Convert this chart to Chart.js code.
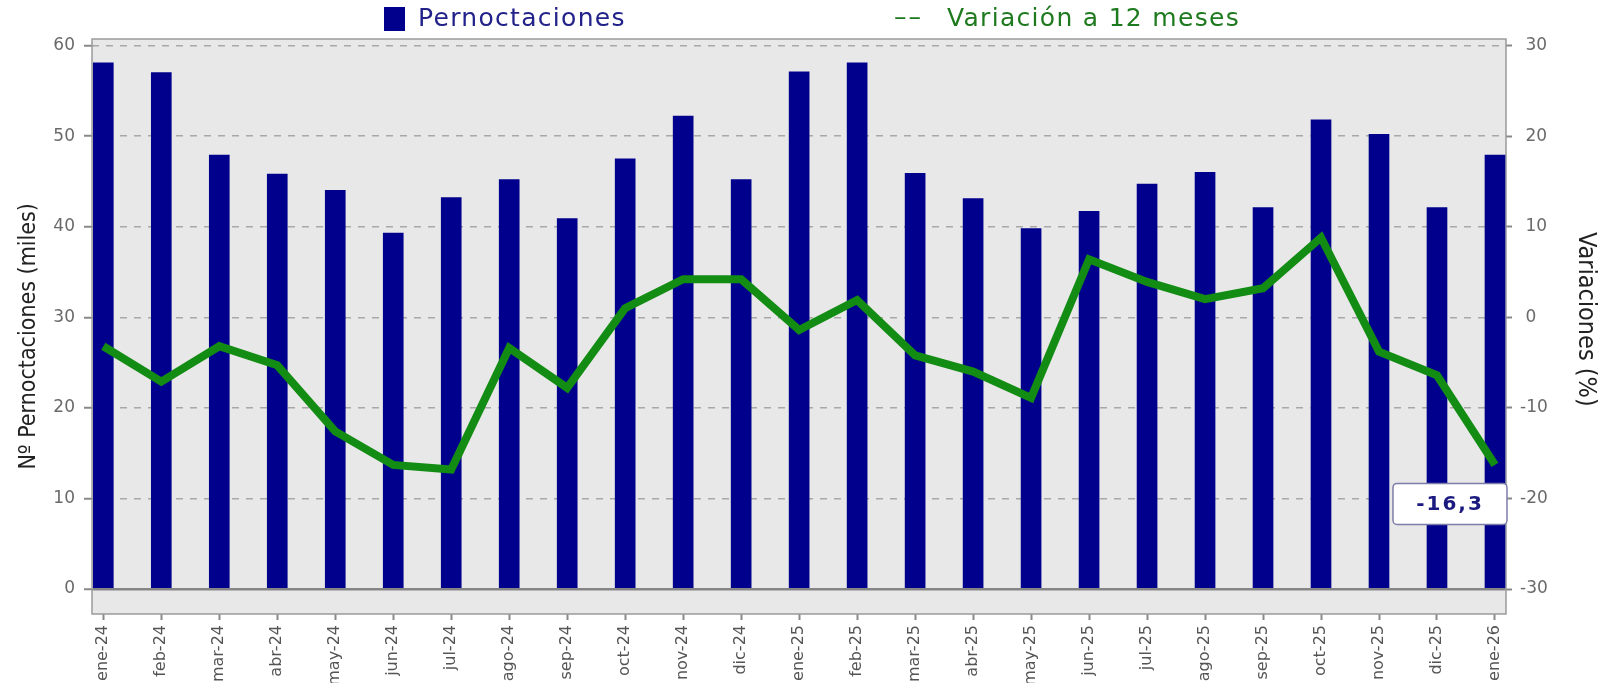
<!DOCTYPE html>
<html>
<head>
<meta charset="utf-8">
<script src="https://cdn.jsdelivr.net/npm/chart.js@4.4.1/dist/chart.umd.min.js"></script>
<style>
  html, body { margin: 0; padding: 0; background: #ffffff; }
  #wrap { position: relative; width: 1600px; height: 683px; overflow: hidden; }
  #c { position: absolute; left: 0; top: 0; }
  .lg { position: absolute; font-family: 'DejaVu Sans', Verdana, sans-serif; font-size: 25px; line-height: 24px; white-space: nowrap; letter-spacing: 1.3px; }
</style>
</head>
<body>
<div id="wrap">
  <canvas id="c" width="1600" height="683"></canvas>
  <div class="lg" style="left:384px;top:7px;width:21px;height:24px;background:#00008C;"></div>
  <div class="lg" style="left:418px;top:6px;color:#22228a;">Pernoctaciones</div>
  <div class="lg" style="left:894px;top:5px;color:#1f7a1f;letter-spacing:2px;">––</div>
  <div class="lg" style="left:947px;top:6px;color:#1f7a1f;">Variación a 12 meses</div>
</div>
<script>
const labels = ['ene-24','feb-24','mar-24','abr-24','may-24','jun-24','jul-24','ago-24','sep-24','oct-24','nov-24','dic-24',
                'ene-25','feb-25','mar-25','abr-25','may-25','jun-25','jul-25','ago-25','sep-25','oct-25','nov-25','dic-25','ene-26'];
const pernoctaciones = [58.1, 57.0, 47.9, 45.8, 44.0, 39.3, 43.2, 45.2, 40.9, 47.5, 52.2, 45.2,
                        57.1, 58.1, 45.9, 43.1, 39.8, 41.7, 44.7, 46.0, 42.1, 51.8, 50.2, 42.1, 47.9];
const variacion = [-3.2, -7.1, -3.2, -5.3, -12.6, -16.3, -16.8, -3.4, -7.8, 1.0, 4.2, 4.2,
                   -1.4, 1.9, -4.2, -6.0, -8.9, 6.4, 3.9, 2.0, 3.2, 8.8, -3.8, -6.4, -16.3];
const leftTicks = [0, 10, 20, 30, 40, 50, 60];
const rightTicks = [-30, -20, -10, 0, 10, 20, 30];

const FONT = "'DejaVu Sans', Verdana, sans-serif";
const FONT_C = "'DejaVu Sans Condensed', 'DejaVu Sans', sans-serif";

const plotDeco = {
  id: 'plotDeco',
  beforeDraw(chart) {
    const {ctx, chartArea: a} = chart;
    ctx.save();
    ctx.fillStyle = '#e8e8e8';
    ctx.fillRect(a.left, a.top, a.right - a.left, a.bottom - a.top);
    ctx.restore();
  },
  beforeDatasetsDraw(chart) {
    const {ctx, chartArea: a} = chart;
    ctx.save();
    ctx.strokeStyle = '#9a9a9a';
    ctx.lineWidth = 1.5;
    ctx.strokeRect(a.left, a.top, a.right - a.left, a.bottom - a.top);
    ctx.restore();
  },
  afterDatasetsDraw(chart) {
    const meta = chart.getDatasetMeta(1);
    const last = meta.data[meta.data.length - 1];
    if (!last) return;
    const val = variacion[variacion.length - 1];
    const txt = String(val).replace('.', ',');
    const {ctx} = chart;
    const w = 114, h = 41;
    const cx = last.x - 45, cy = last.y + 39;
    ctx.save();
    ctx.beginPath();
    if (ctx.roundRect) ctx.roundRect(cx - w / 2, cy - h / 2, w, h, 4); else ctx.rect(cx - w / 2, cy - h / 2, w, h);
    ctx.fillStyle = '#ffffff';
    ctx.fill();
    ctx.strokeStyle = '#7d7daa';
    ctx.lineWidth = 1.5;
    ctx.stroke();
    ctx.font = "bold 20px " + FONT;
    if ('letterSpacing' in ctx) ctx.letterSpacing = '2px';
    ctx.fillStyle = '#1a1a80';
    ctx.textAlign = 'center';
    ctx.textBaseline = 'middle';
    ctx.fillText(txt, cx, cy + 1);
    ctx.restore();
  }
};

new Chart(document.getElementById('c'), {
  type: 'bar',
  data: {
    datasets: [
      {
        type: 'bar',
        label: 'Pernoctaciones',
        data: pernoctaciones.map((v, i) => ({x: i, y: v})),
        backgroundColor: '#00008C',
        borderWidth: 0,
        barThickness: 20,
        yAxisID: 'y',
        order: 2
      },
      {
        type: 'line',
        label: 'Variación a 12 meses',
        data: variacion.map((v, i) => ({x: i, y: v})),
        borderColor: '#138c13',
        backgroundColor: '#138c13',
        borderWidth: 8,
        pointRadius: 0,
        pointHoverRadius: 0,
        tension: 0,
        fill: false,
        yAxisID: 'y1',
        order: 1
      }
    ]
  },
  options: {
    responsive: false,
    animation: false,
    devicePixelRatio: 1,
    layout: { padding: { top: 39, left: 0, right: 0, bottom: 0 } },
    plugins: { legend: { display: false }, tooltip: { enabled: false }, title: { display: false } },
    scales: {
      x: {
        type: 'linear',
        position: 'bottom',
        min: -0.195,
        max: 24.19,
        offset: false,
        afterFit(s) { s.height = 69; },
        grid: { offset: false, drawOnChartArea: false, drawTicks: true, tickLength: 6, tickColor: '#888888', tickWidth: 2 },
        border: { display: false },
        ticks: {
          stepSize: 1,
          autoSkip: false,
          includeBounds: false,
          maxTicksLimit: 40,
          minRotation: 90,
          maxRotation: 90,
          padding: 5,
          color: '#555555',
          font: { family: FONT, size: 16 },
          callback: (v) => Number.isInteger(v) && labels[v] !== undefined ? labels[v] : ''
        }
      },
      y: {
        type: 'linear',
        position: 'left',
        min: -2.76,
        max: 60.72,
        afterFit(s) { s.width = 92; },
        afterBuildTicks(s) { s.ticks = leftTicks.map(v => ({value: v})); },
        grid: {
          drawOnChartArea: true,
          drawTicks: true,
          tickLength: 8,
          tickColor: '#888888',
          tickWidth: 2,
          color: (c) => (c.tick && c.tick.value === 0) ? '#858585' : '#a8a8a8',
          lineWidth: (c) => (c.tick && c.tick.value === 0) ? 2.5 : 1.5
        },
        border: { display: false, dash: (c) => (c.tick && c.tick.value === 0) ? [] : [7, 7] },
        ticks: {
          stepSize: 10,
          includeBounds: false,
          padding: 9,
          color: '#6a6a6a',
          font: { family: FONT, size: 17 }
        },
        title: {
          display: true,
          text: 'Nº Pernoctaciones (miles)\u00a0\u00a0\u00a0',
          color: '#222222',
          font: { family: FONT_C, size: 23 },
          padding: { top: 15, bottom: 0 }
        }
      },
      y1: {
        type: 'linear',
        position: 'right',
        min: -32.76,
        max: 30.72,
        afterFit(s) { s.width = 94; },
        afterBuildTicks(s) { s.ticks = rightTicks.map(v => ({value: v})); },
        grid: { drawOnChartArea: false, drawTicks: true, tickLength: 6, tickColor: '#888888', tickWidth: 2 },
        border: { display: false },
        ticks: {
          stepSize: 10,
          includeBounds: false,
          padding: 8,
          color: '#6a6a6a',
          font: { family: FONT, size: 17 },
          callback: (v) => (v >= 0 ? '\u2008' : '') + v
        },
        title: {
          display: true,
          text: 'Variaciones (%)\u00a0\u00a0',
          color: '#222222',
          font: { family: FONT_C, size: 25 },
          padding: { top: 0, bottom: 0 }
        }
      }
    }
  },
  plugins: [plotDeco]
});
</script>
</body>
</html>
